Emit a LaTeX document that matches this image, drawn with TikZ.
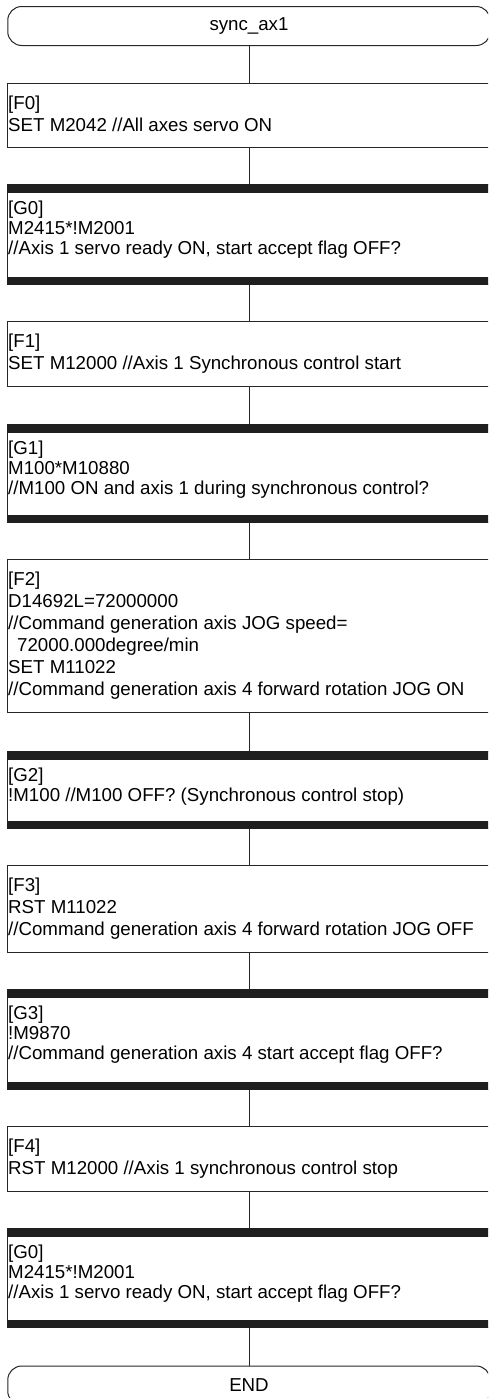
\documentclass[tikz,border=0pt]{standalone}
\usepackage{fontspec}
\setmainfont{Liberation Sans}
\begin{document}
\begin{tikzpicture}[x=1pt,y=-1pt,
  boxline/.style={draw=black!85, line width=1pt},
  fbox/.style={boxline, minimum width=484pt, inner sep=0pt, anchor=north},
  term/.style={boxline, rounded corners=14pt, minimum width=482.5pt, minimum height=39pt, inner sep=0pt, font=\fontsize{18.7}{20}\selectfont},
  ftxt/.style={anchor=north west, align=left, inner sep=0pt, font=\fontsize{18.7}{22}\selectfont},
  gtxt/.style={anchor=north west, align=left, inner sep=0pt, font=\fontsize{18.7}{20.3}\selectfont},
  band/.style={fill=black!88},
  conn/.style={draw=black!85, line width=1pt}
]
\useasboundingbox (0,0) rectangle (488,1398);
\clip (0,0) rectangle (488,1398);

% terminals
\node[term] (start) at (249,26) {sync\_ax1};
\node[term] (end) at (249,1385.5) {END};

% boxes
\node[fbox, minimum height=64pt]  (F0) at (249,83)   {};
\node[fbox, minimum height=100pt] (G0) at (249,184)  {};
\node[fbox, minimum height=65pt]  (F1) at (249,321)  {};
\node[fbox, minimum height=98pt]  (G1) at (249,424)  {};
\node[fbox, minimum height=153pt] (F2) at (249,559)  {};
\node[fbox, minimum height=77pt]  (G2) at (249,751)  {};
\node[fbox, minimum height=87pt]  (F3) at (249,865)  {};
\node[fbox, minimum height=100pt] (G3) at (249,989)  {};
\node[fbox, minimum height=65pt]  (F4) at (249,1126) {};
\node[fbox, minimum height=99pt]  (G4) at (249,1228) {};

% thick bands on G boxes
\foreach \g in {G0,G1,G2,G3,G4}{
  \fill[band] (\g.north west) rectangle ([yshift=-8.5pt]\g.north east);
  \fill[band] (\g.south west) rectangle ([yshift=8.5pt]\g.south east);
}

% texts
\node[ftxt] (tF0) at ([xshift=1.5pt,yshift=-13pt]F0.north west) {[F0]\\SET M2042 //All axes servo ON};
\node[gtxt] (tG0) at ([xshift=1.5pt,yshift=-16.5pt]G0.north west) {[G0]\\M2415*!M2001\\//Axis 1 servo ready ON, start accept flag OFF?};
\node[ftxt] (tF1) at ([xshift=1.5pt,yshift=-13pt]F1.north west) {[F1]\\SET M12000 //Axis 1 Synchronous control start};
\node[gtxt] (tG1) at ([xshift=1.5pt,yshift=-16.5pt]G1.north west) {[G1]\\M100*M10880\\//M100 ON and axis 1 during synchronous control?};
\node[ftxt] (tF2) at ([xshift=1.5pt,yshift=-12.5pt]F2.north west) {[F2]\\D14692L=72000000\\//Command generation axis JOG speed=\\\hspace*{9pt}72000.000degree/min\\SET M11022\\//Command generation axis 4 forward rotation JOG ON};
\node[gtxt] (tG2) at ([xshift=1.5pt,yshift=-16.5pt]G2.north west) {[G2]\\!M100 //M100 OFF? (Synchronous control stop)};
\node[ftxt] (tF3) at ([xshift=1.5pt,yshift=-13pt]F3.north west) {[F3]\\RST M11022\\//Command generation axis 4 forward rotation JOG OFF};
\node[gtxt] (tG3) at ([xshift=1.5pt,yshift=-16.5pt]G3.north west) {[G3]\\!M9870\\//Command generation axis 4 start accept flag OFF?};
\node[ftxt] (tF4) at ([xshift=1.5pt,yshift=-13pt]F4.north west) {[F4]\\RST M12000 //Axis 1 synchronous control stop};
\node[gtxt] (tG4) at ([xshift=1.5pt,yshift=-16.5pt]G4.north west) {[G0]\\M2415*!M2001\\//Axis 1 servo ready ON, start accept flag OFF?};

% connectors
\draw[conn] (start.south) -- (F0.north);
\draw[conn] (F0.south) -- (G0.north);
\draw[conn] (G0.south) -- (F1.north);
\draw[conn] (F1.south) -- (G1.north);
\draw[conn] (G1.south) -- (F2.north);
\draw[conn] (F2.south) -- (G2.north);
\draw[conn] (G2.south) -- (F3.north);
\draw[conn] (F3.south) -- (G3.north);
\draw[conn] (G3.south) -- (F4.north);
\draw[conn] (F4.south) -- (G4.north);
\draw[conn] (G4.south) -- (end.north);
\end{tikzpicture}
\end{document}
